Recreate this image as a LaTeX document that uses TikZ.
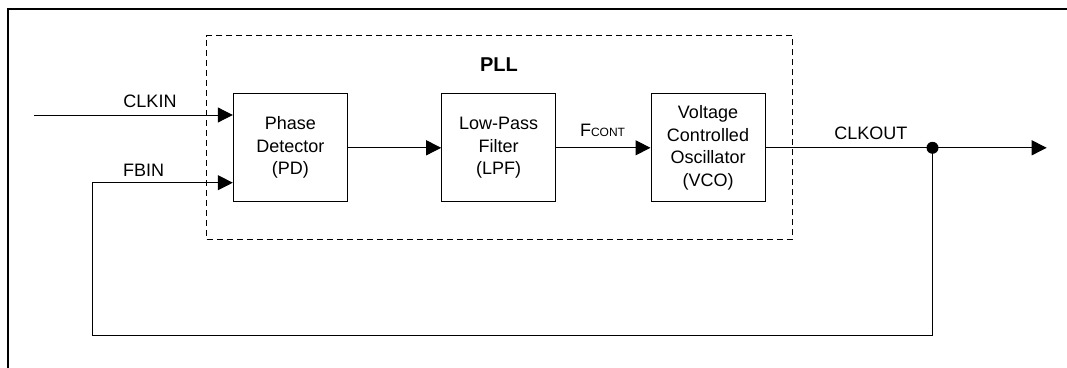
\documentclass[tikz,border=0pt]{standalone}
\usepackage{fontspec}
\setmainfont{Liberation Sans}
\usepackage{tikz}
\usetikzlibrary{shapes, positioning, arrows.meta, fit}

\begin{document}
\begin{tikzpicture}[
      x=1pt, y=-1pt,
      font=\fontsize{18}{22.5}\selectfont,
      block/.style={draw, line width=1pt, minimum width=114pt, minimum height=107.7pt, inner sep=0pt, align=center},
      pllbox/.style={draw, line width=1pt, dash pattern=on 6pt off 4pt, minimum width=586pt, minimum height=203.6pt, inner sep=0pt},
      sig/.style={line width=1pt, -{Triangle[length=15pt, width=15pt]}},
      wire/.style={line width=1pt},
      lbl/.style={anchor=base, inner sep=0pt}
    ]
    \useasboundingbox (0,0) rectangle (1067,367);
    \draw[line width=2.5pt] (8,370) -- (8,9) -- (1070,9);
    \node[pllbox] (pll) at (499.7,137.5) {};
    \node[font=\fontsize{20}{20}\selectfont\bfseries] (plllbl) at (499,65) {PLL};
    \node[block] (pd) at (290.3,147.8) {Phase\\Detector\\(PD)};
    \node[block] (lpf) at (498.7,147.8) {Low-Pass\\Filter\\(LPF)};
    \node[block] (vco) at (708,147.8) {Voltage\\Controlled\\Oscillator\\(VCO)};
    \coordinate (clkin) at (34.3,115);
    \coordinate (fbin) at (92.7,182.7);
    \coordinate (fbl) at (92.7,335.7);
    \coordinate (split) at (932.5,147.8);
    \coordinate (out) at (1046.7,147.8);
    % signals
    \draw[sig] (clkin) -- (clkin -| pd.west);
    \draw[sig] (pd.east) -- (lpf.west);
    \draw[sig] (lpf.east) -- (vco.west);
    \draw[sig] (vco.east) -- (out);
    \draw[sig] (split) |- (fbl) -- (fbin) -- (fbin -| pd.west);
    \fill (split) circle (6pt);
    % labels
    \node[lbl] (clkinlbl) at (150,107) {CLKIN};
    \node[lbl] (fbinlbl) at (143.7,176) {FBIN};
    \node[lbl] (fcont) at (602.5,136.7) {F{\fontsize{12}{12}\selectfont CONT}};
    \node[lbl] (clkout) at (870.8,139.3) {CLKOUT};
    \end{tikzpicture}
\end{document}
